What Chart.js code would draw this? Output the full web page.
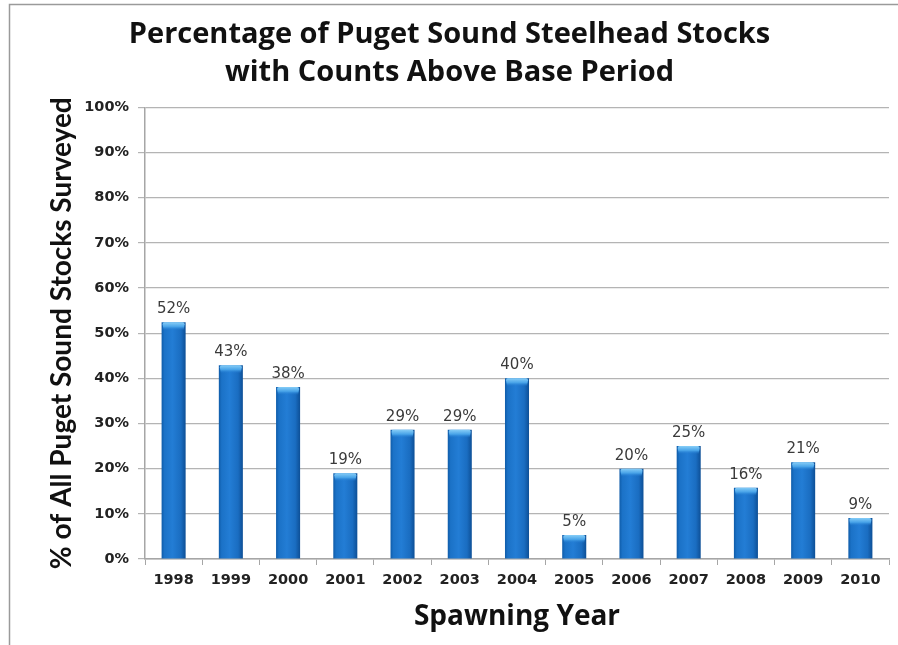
<!DOCTYPE html>
<html>
<head>
<meta charset="utf-8">
<script src="https://cdn.jsdelivr.net/npm/chart.js@4.4.1/dist/chart.umd.min.js"></script>
<style>
  html, body { margin: 0; padding: 0; background: #ffffff; }
  #wrap { width: 898px; height: 645px; }
</style>
</head>
<body>
<div id="wrap"><canvas id="c" width="898" height="645"></canvas></div>
<script>
// Spawning years surveyed
const years = ['1998','1999','2000','2001','2002','2003','2004','2005','2006','2007','2008','2009','2010'];
// Share of surveyed stocks with counts above the base period (%)
const pctAbove = [52.4, 42.9, 38.1, 19.0, 28.6, 28.6, 40.0, 5.3, 20.0, 25.0, 15.8, 21.4, 9.1];
// Value axis ticks (%)
const yTicks = [0, 10, 20, 30, 40, 50, 60, 70, 80, 90, 100];

const titleLines = ['Percentage of Puget Sound Steelhead Stocks', 'with Counts Above Base Period'];
const yTitle = '% of All Puget Sound Stocks Surveyed';
const xTitle = 'Spawning Year';

const HEAD = "'Open Sans', Lato, sans-serif";
const SIDE = "Lato, 'Open Sans', sans-serif";
const BODY = "'DejaVu Sans', Verdana, sans-serif";
const BAR_PCT = 0.42;

// Cylinder-like shading across each bar
function barFill(ctx) {
  const chart = ctx.chart;
  const xs = chart.scales && chart.scales.x;
  const idx = ctx.dataIndex;
  if (!xs || idx === undefined) return '#1b6ec2';
  const cx = xs.getPixelForValue(idx);
  const w = (xs.width / years.length) * BAR_PCT;
  if (!isFinite(cx) || !isFinite(w) || w <= 0) return '#1b6ec2';
  const g = chart.ctx.createLinearGradient(cx - w / 2, 0, cx + w / 2, 0);
  g.addColorStop(0, '#0f5ca9');
  g.addColorStop(0.12, '#1b72c7');
  g.addColorStop(0.45, '#237dd5');
  g.addColorStop(0.8, '#1a6dc1');
  g.addColorStop(1, '#0d4f96');
  return g;
}

// Light bevel on top of each bar, value labels above, and the outer frame
const decor = {
  id: 'decor',
  beforeDraw(chart) {
    const c = chart.ctx;
    c.save();
    c.strokeStyle = '#9a9a9a';
    c.lineWidth = 1.5;
    c.beginPath();
    c.moveTo(9.5, 645);
    c.lineTo(9.5, 4.5);
    c.lineTo(898, 4.5);
    c.stroke();
    c.restore();
  },
  afterDatasetsDraw(chart) {
    const c = chart.ctx;
    const meta = chart.getDatasetMeta(0);
    c.save();
    meta.data.forEach((bar, i) => {
      const w = bar.width;
      const l = bar.x - w / 2;
      const t = bar.y;
      const h = Math.min(8, bar.base - bar.y);
      if (!isFinite(l) || !isFinite(t) || h <= 0) return;
      const g = c.createLinearGradient(0, t, 0, t + h);
      g.addColorStop(0, '#86cdf7');
      g.addColorStop(0.55, '#48a3e8');
      g.addColorStop(1, 'rgba(34,123,210,0)');
      c.fillStyle = g;
      c.beginPath();
      c.moveTo(l + 2, t + h);
      c.lineTo(l + 1, t + 2);
      c.quadraticCurveTo(l + 1, t, l + 3, t);
      c.lineTo(l + w - 3, t);
      c.quadraticCurveTo(l + w - 1, t, l + w - 1, t + 2);
      c.lineTo(l + w - 2, t + h);
      c.closePath();
      c.fill();

      c.fillStyle = '#3a3a3a';
      c.font = "15px " + BODY;
      c.textAlign = 'center';
      c.textBaseline = 'alphabetic';
      c.fillText(Math.round(pctAbove[i]) + '%', bar.x, bar.y - 9);
    });
    c.restore();
  }
};

new Chart(document.getElementById('c'), {
  type: 'bar',
  data: {
    labels: years,
    datasets: [{
      data: pctAbove,
      backgroundColor: barFill,
      borderWidth: 0,
      barPercentage: BAR_PCT,
      categoryPercentage: 1.0
    }]
  },
  options: {
    responsive: false,
    animation: false,
    layout: { padding: { left: 10, right: 9, top: 0, bottom: 0 } },
    plugins: {
      legend: { display: false },
      tooltip: { enabled: false },
      title: {
        display: true,
        text: titleLines,
        color: '#111111',
        font: { family: HEAD, size: 29, weight: 'bold', lineHeight: 1.3 },
        padding: { top: 16, bottom: 16 }
      }
    },
    scales: {
      x: {
        grid: { display: true, drawOnChartArea: false, offset: true, tickLength: 6, color: '#a6a6a6' },
        border: { color: '#a6a6a6', width: 1.5 },
        ticks: { color: '#222222', font: { family: BODY, size: 14.5, weight: 'bold' }, padding: 7 },
        title: {
          display: true, text: xTitle, color: '#111111',
          font: { family: HEAD, size: 28, weight: 'bold', lineHeight: 1.2 },
          padding: { top: 0, bottom: 11 }
        },
        afterFit(s) { s.height = 86; }
      },
      y: {
        min: 0, max: 100,
        afterBuildTicks(s) { s.ticks = yTicks.map(v => ({ value: v })); },
        grid: { color: '#b4b4b4', lineWidth: 1.2, tickLength: 7, drawTicks: true },
        border: { color: '#a6a6a6', width: 1.5 },
        ticks: {
          color: '#222222', font: { family: BODY, size: 14.5, weight: 'bold' }, padding: 9,
          callback: v => v + '%'
        },
        title: {
          display: true, text: yTitle, color: '#111111',
          font: { family: SIDE, size: 28, weight: 'bold', lineHeight: 1.2 },
          padding: { top: 35, bottom: 0 }
        },
        afterFit(s) { s.width = 135; }
      }
    }
  },
  plugins: [decor]
});
</script>
</body>
</html>
